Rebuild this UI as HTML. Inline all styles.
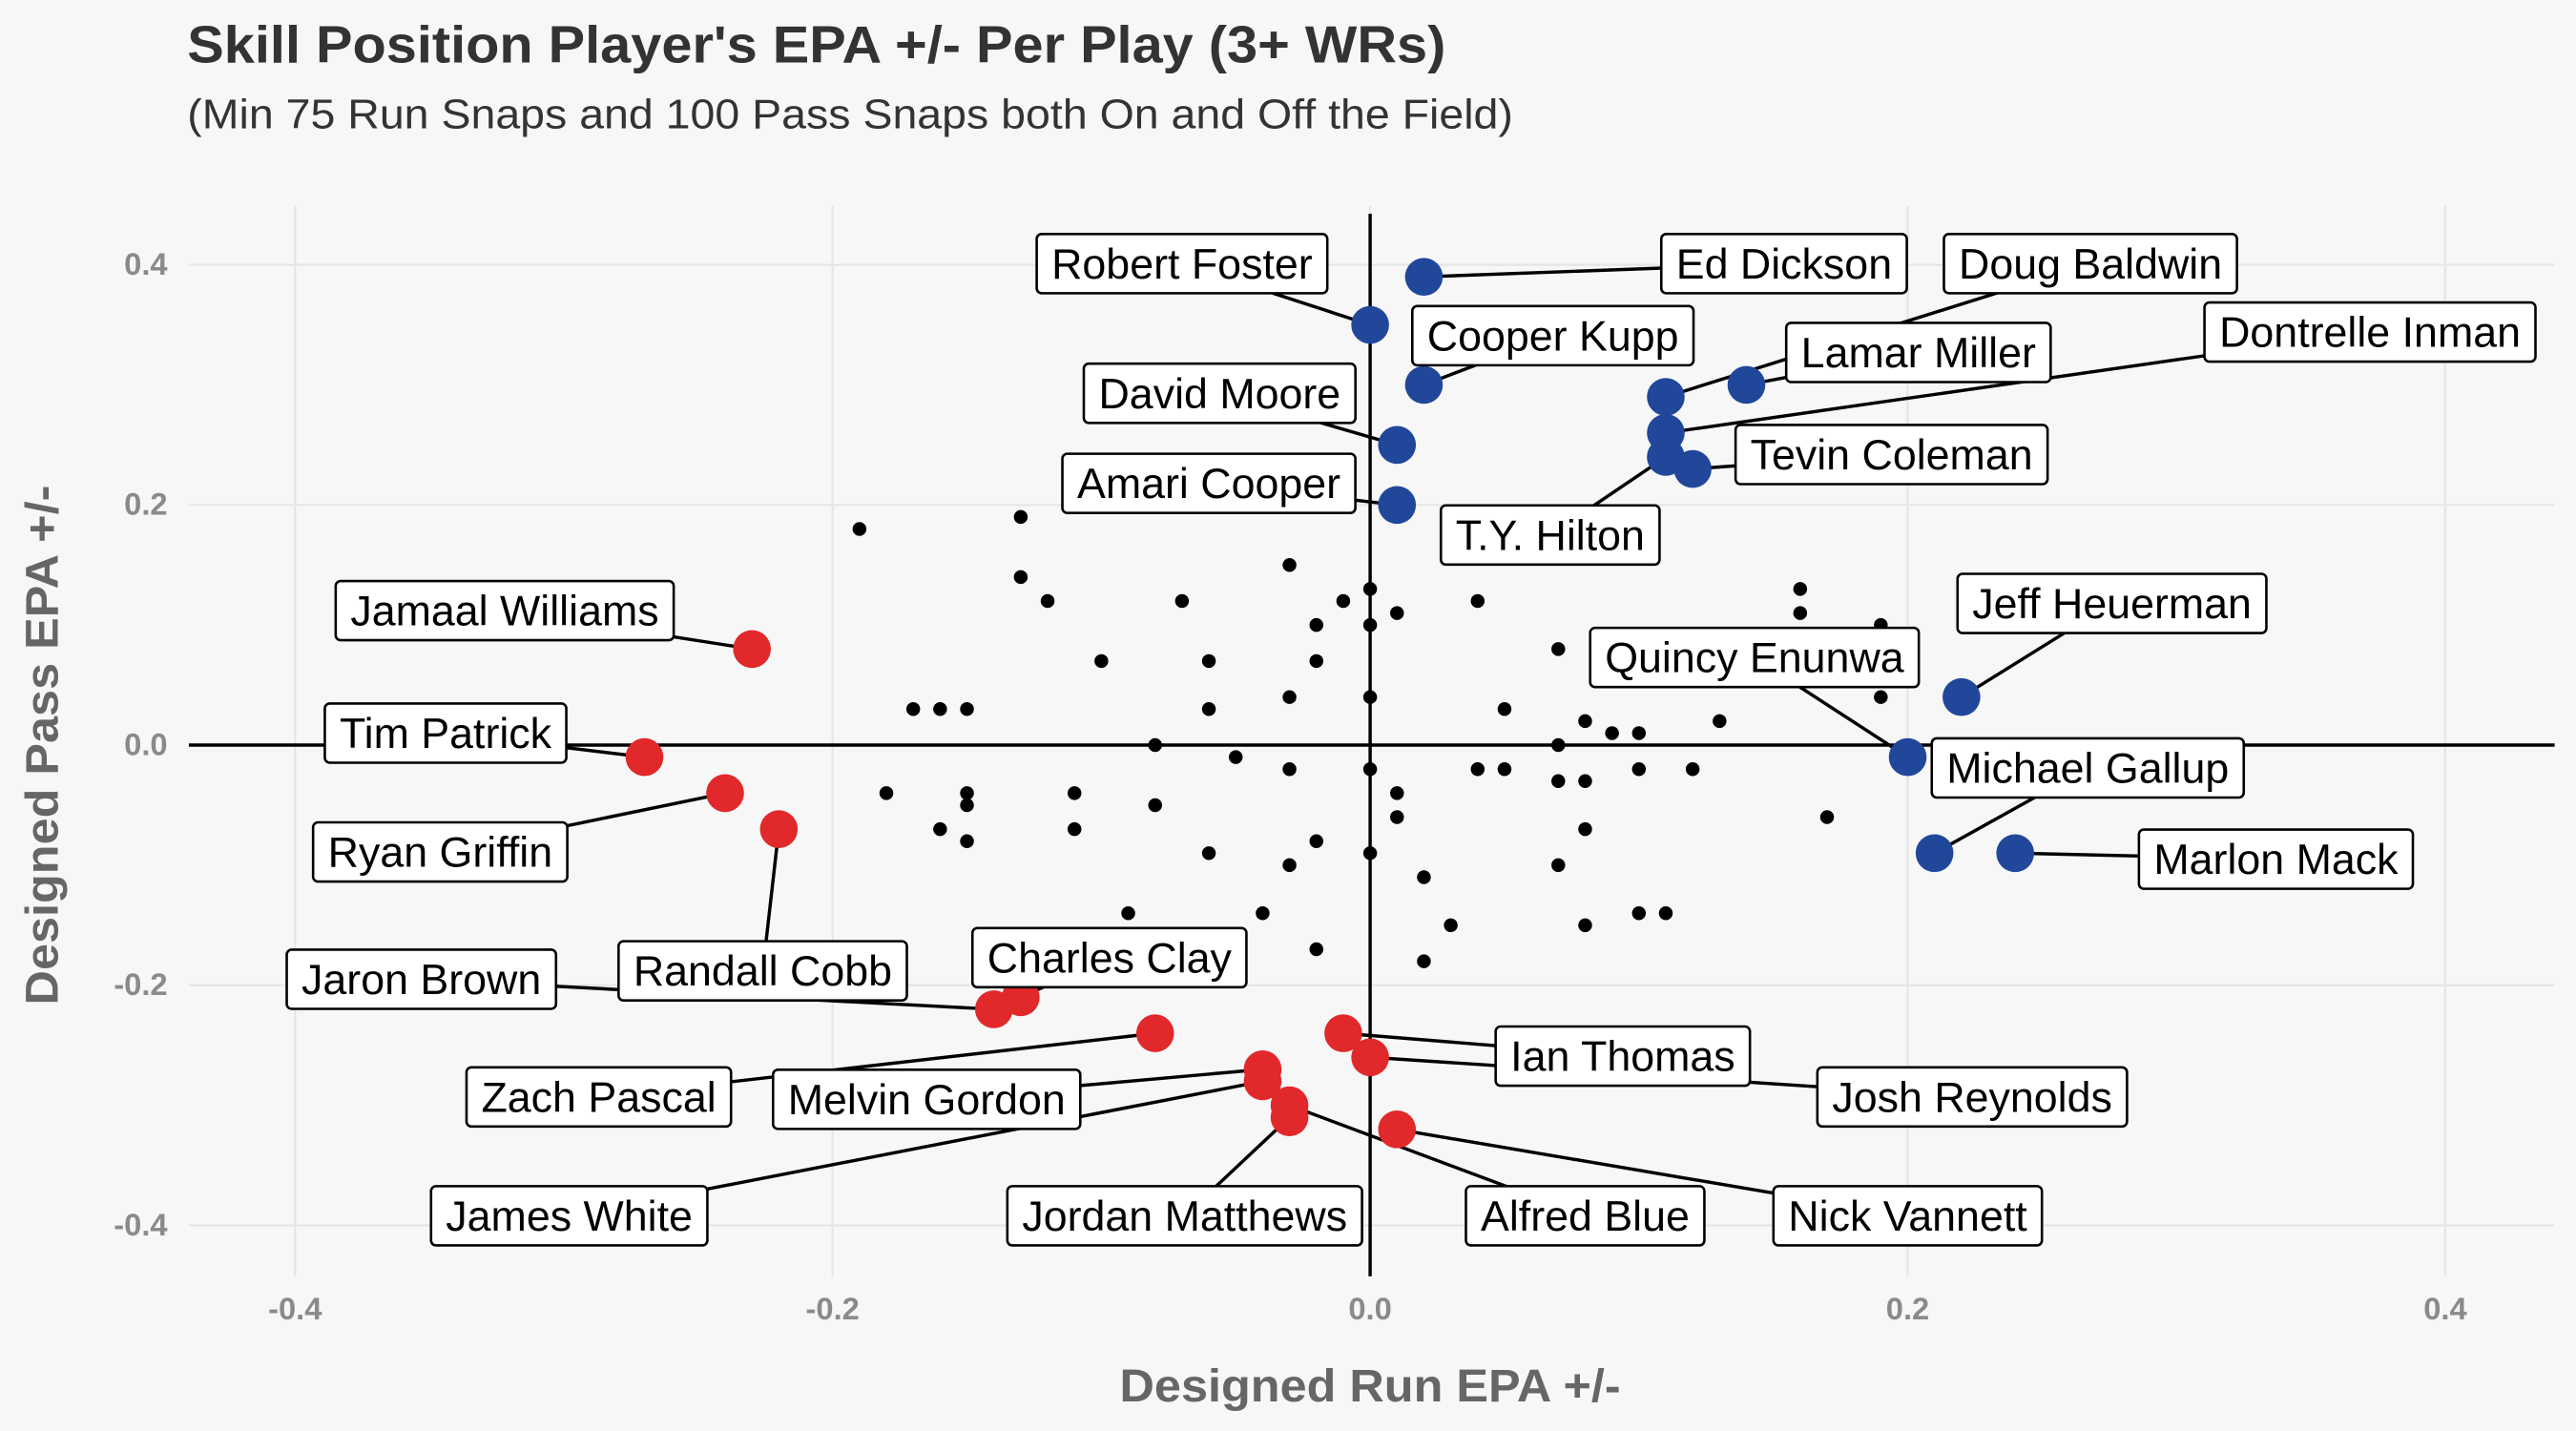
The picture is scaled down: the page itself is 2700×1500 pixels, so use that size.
<!DOCTYPE html>
<html><head><meta charset="utf-8"><style>
html,body{margin:0;padding:0;background:#f7f7f7;}
svg{display:block;font-family:"Liberation Sans",Arial,sans-serif;}
</style></head><body>
<svg id="chart" width="2700" height="1500" viewBox="0 0 1568 870" preserveAspectRatio="none" xmlns="http://www.w3.org/2000/svg">
<rect x="0" y="0" width="1568" height="870" fill="#f7f7f7"/>
<text x="114" y="38" font-size="32" font-weight="bold" fill="#333" textLength="766" lengthAdjust="spacingAndGlyphs">Skill Position Player's EPA +/- Per Play (3+ WRs)</text>
<text x="114" y="78" font-size="25" fill="#333" textLength="807" lengthAdjust="spacingAndGlyphs">(Min 75 Run Snaps and 100 Pass Snaps both On and Off the Field)</text>
<g id="grid"></g>
<g id="axes"></g>
<g id="dots"></g>
<g id="labels"></g>
<text x="834" y="852" font-size="28" font-weight="bold" fill="#666" text-anchor="middle" textLength="305" lengthAdjust="spacingAndGlyphs">Designed Run EPA +/-</text>
<text x="0" y="0" transform="translate(35,453) rotate(-90)" font-size="28" font-weight="bold" fill="#666" text-anchor="middle" textLength="316" lengthAdjust="spacingAndGlyphs">Designed Pass EPA +/-</text>
</svg>
<script>
const xTicks = [-0.4, -0.2, 0.0, 0.2, 0.4];
const yTicks = [-0.4, -0.2, 0.0, 0.2, 0.4];
const tickLabels = ["-0.4", "-0.2", "0.0", "0.2", "0.4"];
const dotX = [-0.19,-0.13,-0.13,-0.12,-0.07,-0.03,-0.10,-0.06,-0.02,-0.01,0,0.01,0,-0.02,0.04,-0.03,0,-0.06,-0.17,-0.16,-0.15,0.07,0.05,0.08,0.09,0.10,0.13,0.07,-0.08,0.16,0.16,0.19,0.19,-0.05,-0.03,0,0.04,0.05,0.07,0.08,0.10,0.12,-0.18,-0.15,-0.15,-0.11,-0.08,0.01,0.01,-0.16,-0.15,-0.11,0.08,0.17,-0.02,-0.06,0,-0.03,0.07,0.02,-0.09,-0.04,0.10,0.11,0.03,0.08,-0.02,0.02];
const dotY = [0.18,0.19,0.14,0.12,0.12,0.15,0.07,0.07,0.10,0.12,0.13,0.11,0.10,0.07,0.12,0.04,0.04,0.03,0.03,0.03,0.03,0.08,0.03,0.02,0.01,0.01,0.02,0.0,0.0,0.13,0.11,0.10,0.04,-0.01,-0.02,-0.02,-0.02,-0.02,-0.03,-0.03,-0.02,-0.02,-0.04,-0.04,-0.05,-0.04,-0.05,-0.04,-0.06,-0.07,-0.08,-0.07,-0.07,-0.06,-0.08,-0.09,-0.09,-0.10,-0.10,-0.11,-0.14,-0.14,-0.14,-0.14,-0.15,-0.15,-0.17,-0.18];
const players = ["Ed Dickson","Robert Foster","Cooper Kupp","Doug Baldwin","Lamar Miller","Dontrelle Inman","Tevin Coleman","T.Y. Hilton","David Moore","Amari Cooper","Jeff Heuerman","Quincy Enunwa","Michael Gallup","Marlon Mack","Jamaal Williams","Tim Patrick","Ryan Griffin","Randall Cobb","Jaron Brown","Charles Clay","Zach Pascal","Ian Thomas","Josh Reynolds","Melvin Gordon","James White","Jordan Matthews","Alfred Blue","Nick Vannett"];
const playerX = [0.02,0,0.02,0.11,0.14,0.11,0.12,0.11,0.01,0.01,0.22,0.20,0.21,0.24,-0.23,-0.27,-0.24,-0.22,-0.14,-0.13,-0.08,-0.01,0,-0.04,-0.04,-0.03,-0.03,0.01];
const playerY = [0.39,0.35,0.30,0.29,0.30,0.26,0.23,0.24,0.25,0.20,0.04,-0.01,-0.09,-0.09,0.08,-0.01,-0.04,-0.07,-0.22,-0.21,-0.24,-0.24,-0.26,-0.27,-0.28,-0.31,-0.30,-0.32];
const playerGroup = ["top","top","top","top","top","top","top","top","top","top","top","top","top","top","bottom","bottom","bottom","bottom","bottom","bottom","bottom","bottom","bottom","bottom","bottom","bottom","bottom","bottom"];
const labelX = [0.154,-0.070,0.068,0.268,0.204,0.372,0.194,0.067,-0.056,-0.060,0.276,0.143,0.267,0.337,-0.322,-0.344,-0.346,-0.226,-0.353,-0.097,-0.287,0.094,0.224,-0.165,-0.298,-0.069,0.080,0.200];
const labelY = [0.401,0.401,0.341,0.401,0.327,0.344,0.242,0.175,0.293,0.218,0.118,0.073,-0.019,-0.095,0.112,0.010,-0.089,-0.188,-0.195,-0.177,-0.293,-0.259,-0.293,-0.295,-0.392,-0.392,-0.392,-0.392];

const NS = "http://www.w3.org/2000/svg";
const sx = v => 834 + v * 1636;
const sy = v => 453 - v * 730;
function mk(tag, attrs, parent) {
  const e = document.createElementNS(NS, tag);
  for (const k in attrs) e.setAttribute(k, attrs[k]);
  parent.appendChild(e);
  return e;
}
const grid = document.getElementById('grid');
const axes = document.getElementById('axes');
xTicks.forEach((t, i) => {
  const l = mk('line', {x1: sx(t), x2: sx(t), y1: 125, y2: 776, stroke: '#e6e6e6', 'stroke-width': 1.3}, grid);
  
  
  const tx = mk('text', {x: sx(t), y: 802, 'font-size': 19, 'font-weight': 'bold', fill: '#8a8a8a', 'text-anchor': 'middle'}, axes);
  tx.textContent = tickLabels[i];
  
  
});
yTicks.forEach((t, i) => {
  const l = mk('line', {x1: 115, x2: 1555, y1: sy(t), y2: sy(t), stroke: '#e6e6e6', 'stroke-width': 1.3}, grid);
  
  
  const tx = mk('text', {x: 102, y: sy(t) + 6, 'font-size': 19, 'font-weight': 'bold', fill: '#8a8a8a', 'text-anchor': 'end'}, axes);
  tx.textContent = tickLabels[i];
  
  
});
const hz = mk('line', {x1: 115, x2: 1555, y1: sy(0), y2: sy(0), stroke: '#000', 'stroke-width': 2}, axes);


const vt = mk('line', {x1: sx(0), x2: sx(0), y1: 130, y2: 776, stroke: '#000', 'stroke-width': 2}, axes);



const dots = document.getElementById('dots');
dotX.forEach((x, i) => {
  const c = mk('circle', {cx: sx(x), cy: sy(dotY[i]), r: 4.2, fill: '#000'}, dots);
  
  
});

const labels = document.getElementById('labels');
const segG = mk('g', {}, labels);
const ptG = mk('g', {}, labels);
const boxG = mk('g', {}, labels);
players.forEach((name, i) => {
  const px = sx(playerX[i]), py = sy(playerY[i]);
  const lx = sx(labelX[i]), ly = sy(labelY[i]);
  const seg = mk('line', {x1: px, y1: py, x2: lx, y2: ly, stroke: '#000', 'stroke-width': 2}, segG);
  
  
  const c = mk('circle', {cx: px, cy: py, r: 11.5, fill: playerGroup[i] === 'top' ? '#21479b' : '#e1282a'}, ptG);
  
  
  const g = mk('g', {}, boxG);
  
  
  const rect = mk('rect', {y: ly - 18, height: 36, rx: 3, fill: '#fff', stroke: '#000', 'stroke-width': 1.5}, g);
  const t = mk('text', {x: lx, y: ly + 9, 'font-size': 26, fill: '#000', 'text-anchor': 'middle'}, g);
  t.textContent = name;
  const w = t.getComputedTextLength() + 18;
  rect.setAttribute('x', lx - w / 2);
  rect.setAttribute('width', w);
});
</script>
</body></html>
